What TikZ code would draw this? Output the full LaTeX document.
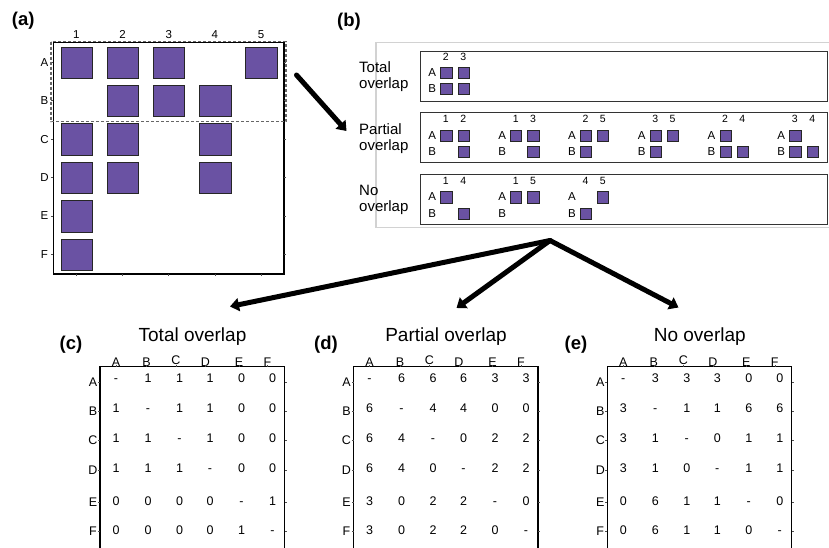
\documentclass[tikz,border=0pt]{standalone}
\usepackage{fontspec}
\setmainfont{Liberation Sans}
\usetikzlibrary{arrows.meta}

\definecolor{cellpurple}{RGB}{106,82,163}
\definecolor{outlinegray}{RGB}{210,210,210}

\tikzset{
  cell/.style={draw=black!85, fill=cellpurple, line width=0.9pt, minimum size=31.5pt, inner sep=0pt, anchor=north west},
  minicell/.style={draw=black!85, fill=cellpurple, line width=0.7pt, minimum size=11.2pt, inner sep=0pt, anchor=north west},
  panellabel/.style={font=\bfseries\fontsize{18.5}{20}\selectfont, inner sep=0pt},
  axislabel/.style={font=\fontsize{11.5}{13}\selectfont, inner sep=0pt},
  minicol/.style={font=\fontsize{10.5}{12}\selectfont, inner sep=0pt},
  minirow/.style={font=\fontsize{11.5}{13}\selectfont, inner sep=0pt},
  boxtitle/.style={font=\fontsize{15}{16}\selectfont, align=left, inner sep=0pt, anchor=west},
  paneltitle/.style={font=\fontsize{19}{21}\selectfont, inner sep=0pt},
  cellval/.style={font=\fontsize{12.5}{14}\selectfont, inner sep=0pt, text height=9pt, text depth=0pt},
  framestyle/.style={line width=1.3pt, black},
  tickstyle/.style={line width=0.5pt, black!70},
  dashframe/.style={line width=1.3pt, black!60, dash pattern=on 3pt off 2pt},
  groupbox/.style={draw=black!80, line width=1pt, inner sep=0pt, anchor=north west},
  bigarrow/.style={line width=5pt, line cap=round, -{Triangle[length=9pt,width=13pt]}}
}

% one pair of columns drawn as a 2x2 mini grid
% #1 name, #2 left x, #3 y of the column numbers, #4 #5 column numbers, #6 filled cells (row/col)
\newcommand{\pairgroup}[6]{%
  \node[minicol] (#1-c1) at ({#2+5.6},#3) {#4};
  \node[minicol] (#1-c2) at ({#2+22.9},#3) {#5};
  \node[minirow] (#1-rA) at ({#2-8},{#3+16}) {A};
  \node[minirow] (#1-rB) at ({#2-8},{#3+32.2}) {B};
  \foreach \rr/\cc in {#6} {
    \node[minicell] (#1-\rr\cc) at ({#2+17.3*\cc},{#3+10.3+16.2*\rr}) {};
  }
}

% pairwise count table
% #1 name, #2 frame left x, #3 title, #4 panel letter, #5 letter x, #6 rows of values
\newcommand{\overlaptable}[6]{%
  \begin{scope}[shift={(#2,0)}]
    \draw[framestyle] (0,549) -- (0,366.5) -- (184.5,366.5) -- (184.5,549);
    \node[paneltitle] (#1-title) at (92.5,336.5) {#3};
    \foreach \h/\hx [count=\c] in {A/16,B/46.5,C/76,D/105.5,E/139,F/167.5} {
      \pgfmathsetmacro\hy{ifthenelse(\c==3,359.5,361.5)}
      \node[cellval] (#1-h\h) at (\hx,\hy) {\h};
      \draw[tickstyle] (\hx,366.5) -- (\hx,364.5);
    }
    \foreach \rl/\ry in {A/382,B/411,C/440,D/470,E/502,F/531} {
      \node[cellval] (#1-r\rl) at (-7,\ry) {\rl};
      \draw[tickstyle] (0,\ry) -- (-2,\ry);
      \draw[tickstyle] (184.5,\ry) -- (186.5,\ry);
    }
    \foreach \row [count=\r] in {#6} {
      \pgfmathsetmacro\vy{{378.3,408.3,438.3,468.3,500.5,529.5}[\r-1]}
      \foreach \v [count=\c] in \row {
        \pgfmathsetmacro\vx{{16,48,79.5,110,141.5,172.5}[\c-1]}
        \node[cellval] (#1-\r-\c) at (\vx,\vy) {\v};
      }
    }
  \end{scope}
  \node[panellabel] (#1-label) at (#5,345) {(#4)};
}

\begin{document}
\begin{tikzpicture}[x=1pt,y=-1pt]
\useasboundingbox (0,0) rectangle (829,547);
\fill[white] (0,0) rectangle (829,547);

% ---------- (a) occupancy grid ----------
\node[panellabel] (a-label) at (23.3,20.5) {(a)};
\draw[framestyle] (53.3,42.5) rectangle (284,274);
\foreach \c in {1,...,5} {
  \node[axislabel] (a-col\c) at ({76.3+46.2*(\c-1)},34.3) {\c};
  \draw[tickstyle] ({76.3+46.2*(\c-1)},274) -- ({76.3+46.2*(\c-1)},276);
}
\foreach \r/\cols [count=\ri] in {A/{1,2,3,5},B/{2,3,4},C/{1,2,4},D/{1,2,4},E/{1},F/{1}} {
  \node[axislabel] (a-row\r) at (44.5,{62.3+38.4*(\ri-1)}) {\r};
  \draw[tickstyle] (53.3,{62.3+38.4*(\ri-1)}) -- (51.3,{62.3+38.4*(\ri-1)});
  \draw[tickstyle] (284,{62.3+38.4*(\ri-1)}) -- (286,{62.3+38.4*(\ri-1)});
  \foreach \c in \cols {
    \node[cell] (a-\r\c) at ({60.5+46.2*(\c-1)},{46.5+38.4*(\ri-1)}) {};
  }
}
\draw[dashframe] (51,41.7) rectangle (286,121.7);

% ---------- (b) column pairs ----------
\node[panellabel] (b-label) at (349,22) {(b)};
\draw[outlinegray, line width=1.2pt] (829,42.7) -- (376,42.7) -- (376,227.7) -- (829,227.7);

\node[groupbox, minimum width=407pt, minimum height=50pt] (box-total) at (420,50.7) {};
\node[groupbox, minimum width=407pt, minimum height=50pt] (box-partial) at (420,112.3) {};
\node[groupbox, minimum width=407pt, minimum height=49.5pt] (box-none) at (420,174) {};

\node[boxtitle] (t-total) at (359,77) {Total\\overlap};
\node[boxtitle] (t-partial) at (359,138.5) {Partial\\overlap};
\node[boxtitle] (t-none) at (359,200) {No\\overlap};

\pairgroup{t1}{440.3}{56.7}{2}{3}{0/0,0/1,1/0,1/1}

\pairgroup{p1}{440.3}{119.3}{1}{2}{0/0,0/1,1/1}
\pairgroup{p2}{510.1}{119.3}{1}{3}{0/0,0/1,1/1}
\pairgroup{p3}{579.9}{119.3}{2}{5}{0/0,0/1,1/0}
\pairgroup{p4}{649.7}{119.3}{3}{5}{0/0,0/1,1/0}
\pairgroup{p5}{719.5}{119.3}{2}{4}{0/0,1/0,1/1}
\pairgroup{p6}{789.3}{119.3}{3}{4}{0/0,1/0,1/1}

\pairgroup{n1}{440.3}{181}{1}{4}{0/0,1/1}
\pairgroup{n2}{510.1}{181}{1}{5}{0/0,0/1}
\pairgroup{n3}{579.9}{181}{4}{5}{0/1,1/0}

% ---------- arrows ----------
\coordinate (a-out) at (296.5,75);
\coordinate (b-in) at (346.5,131);
\draw[bigarrow] (a-out) -- (b-in);

\coordinate (split) at (550,240.5);
\coordinate (c-in) at (230,306.5);
\coordinate (d-in) at (456.5,308);
\coordinate (e-in) at (678.5,307.5);
\draw[bigarrow] (split) -- (c-in);
\draw[bigarrow] (split) -- (d-in);
\draw[bigarrow] (split) -- (e-in);

% ---------- (c)-(e) count tables ----------
\overlaptable{c}{100}{Total overlap}{c}{71}{{-,1,1,1,0,0},{1,-,1,1,0,0},{1,1,-,1,0,0},{1,1,1,-,0,0},{0,0,0,0,-,1},{0,0,0,0,1,-}}
\overlaptable{d}{353.5}{Partial overlap}{d}{326}{{-,6,6,6,3,3},{6,-,4,4,0,0},{6,4,-,0,2,2},{6,4,0,-,2,2},{3,0,2,2,-,0},{3,0,2,2,0,-}}
\overlaptable{e}{607.3}{No overlap}{e}{576}{{-,3,3,3,0,0},{3,-,1,1,6,6},{3,1,-,0,1,1},{3,1,0,-,1,1},{0,6,1,1,-,0},{0,6,1,1,0,-}}
\end{tikzpicture}
\end{document}
